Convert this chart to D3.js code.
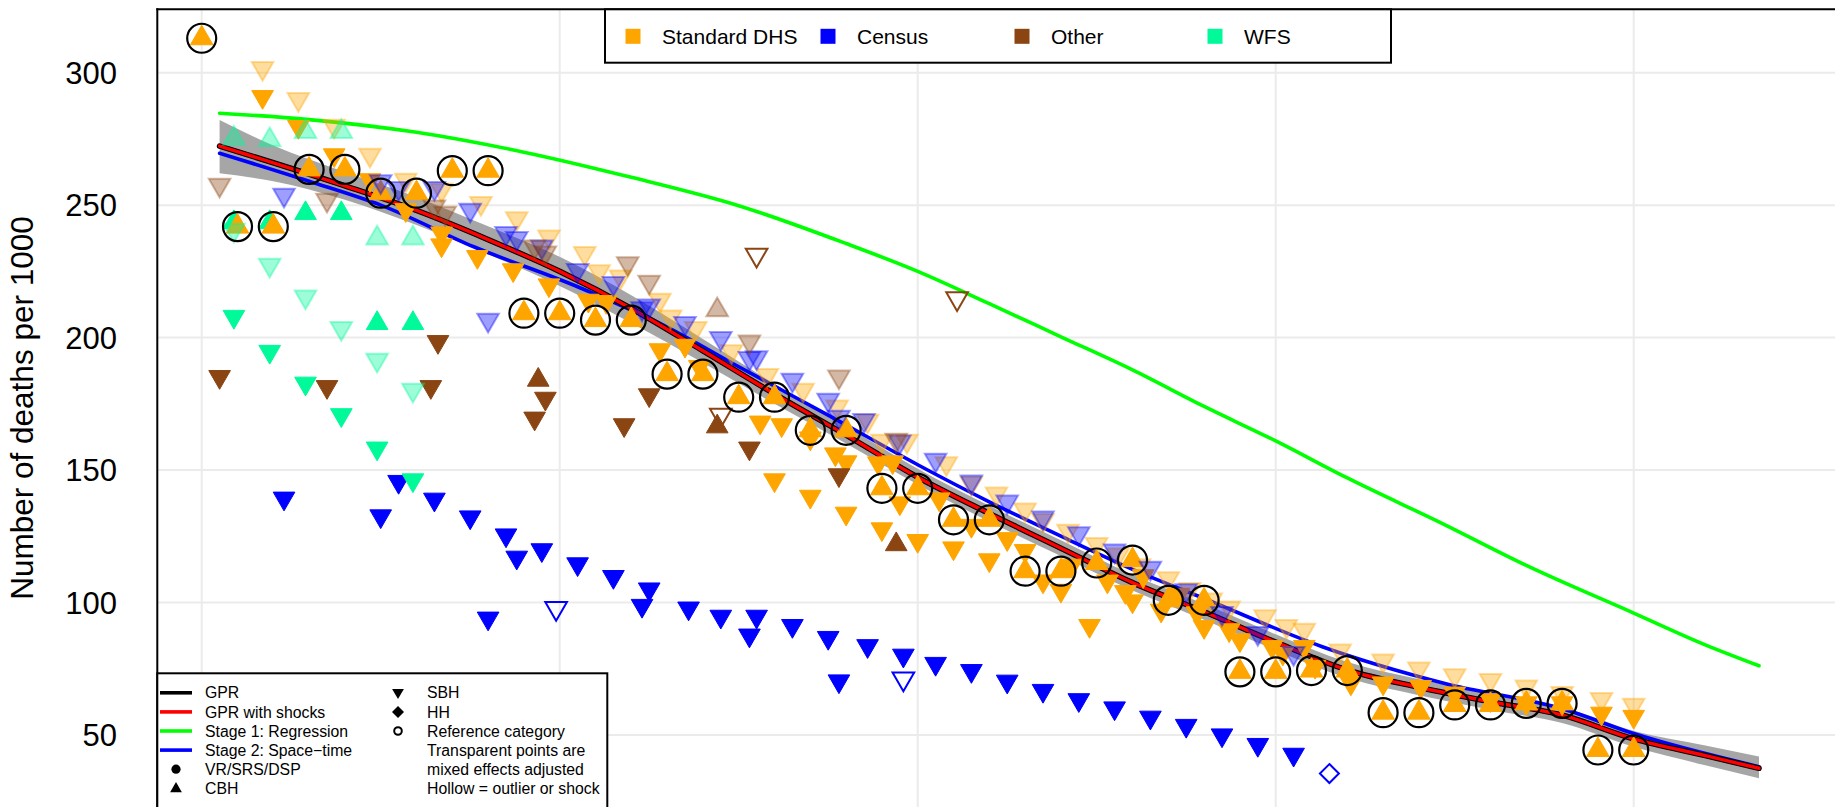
<!DOCTYPE html>
<html><head><meta charset="utf-8">
<script src="https://cdn.jsdelivr.net/npm/d3@7"></script>
<style>html,body{margin:0;padding:0;overflow:hidden;background:#fff}</style>
</head><body>
<svg id="c" width="1835" height="807"></svg>
<script>
// ---------------- data ----------------
const yTicks = [50, 100, 150, 200, 250, 300];
const xGridYears = [1970, 1980, 1990, 2000, 2010];

const sourceNames = ["Standard DHS", "Census", "Other", "WFS"];
const sourceColors = ["#FFA500", "#0000FF", "#8B4513", "#00FA9A"];

const stage1Line = [[1970.5,284.7],[1973,282.3],[1976,277.5],[1979,270],[1982,260.5],[1985,249.8],[1988,235.5],[1990,225],[1992,212.8],[1994,200.3],[1996,187.8],[1998,174],[2000,161],[2002,147],[2004.7,129.5],[2007,114],[2010,96],[2012,84],[2013.5,76.1]];
const stage2Line = [[1970.5,269.6],[1973,259],[1975,250],[1977.6,234.3],[1980.5,219.2],[1983,204],[1985,189],[1987.6,170],[1990,152],[1992,138],[1994,125],[1996,112.5],[1998,101.5],[2001.3,83.3],[2004.7,69.5],[2008.1,59.5],[2010,50.5],[2013.5,38]];
const gprLine = [[1970.5,272.3],[1972,266],[1974,257.3],[1976,248],[1978,237],[1980,225],[1982,211],[1984,195],[1986,178.7],[1988,163.2],[1990,147.3],[1992,133.6],[1994,120.5],[1996,107.5],[1998,96.5],[2000,85],[2002,74.5],[2004,68],[2006,62.5],[2008,57.5],[2010,48.5],[2012,42.2],[2013.5,37.4]];
const shocksLine = [[1970.5,272.3],[1972,266],[1974,257.3],[1976,248],[1978,237],[1980,225],[1982,211],[1984,195],[1986,178.7],[1988,163.2],[1990,147.3],[1992,133.6],[1994,120.5],[1996,107.5],[1998,96.5],[2000,85],[2002,74.5],[2004,68],[2006,62.5],[2008,57.5],[2010,48.5],[2012,42.2],[2013.5,37.4]];
const gprBand = [[1970.5,262,282.1],[1972,259,272.5],[1974,252,262.5],[1976,242.5,253],[1978,231.5,242],[1980,219.5,230.5],[1982,205.5,216],[1984,190.5,199.5],[1986,175,182.5],[1988,160,166.5],[1990,144.5,150.5],[1992,130.5,136.5],[1994,117.5,123.5],[1996,104.5,110.5],[1998,93.5,99.5],[2000,82,88],[2002,71.5,77.5],[2004,65,71],[2006,59.5,65.5],[2008,54.5,60.5],[2010,45.5,51.5],[2012,38.5,46],[2013.5,33.6,41.8]];

// Standard DHS
const dhsCbhRef = [[1970,313],[1971,241.9],[1972,241.9],[1973,263.5],[1974,263.5],[1975,254.5],[1976,254.5],[1977,263],[1978,263],[1979,209.2],[1980,209.2],[1981,206.6],[1982,206.6],[1983,186.2],[1984,186.2],[1985,177.5],[1986,177.5],[1987,165],[1988,165],[1989,143.1],[1990,143.1],[1991,131.2],[1992,131.2],[1993,111.8],[1994,111.8],[1995,114.9],[1996,116],[1997,100.8],[1998,100.8],[1999,73.8],[2000,73.8],[2001,74.3],[2002,74.3],[2003,58.4],[2004,58.4],[2005,61.3],[2006,61.3],[2007,61.9],[2008,61.9],[2009,44.3],[2010,44.3]];
const dhsSbh = [[1971.7,290.9],[1972.7,279.6],[1973.7,268.9],[1974.7,259.5],[1975.7,248.2],[1976.7,239.4],[1976.7,234.9],[1977.7,230.5],[1978.7,225.5],[1979.7,219.8],[1980.8,214],[1981.3,213.5],[1982.8,195.3],[1983.5,197],[1983.9,189],[1985.6,168],[1986.2,167],[1986,146.2],[1987,140],[1988,133.6],[1987,162],[1987.7,156],[1988,153],[1988.9,152.6],[1989.3,153],[1989.5,137.5],[1990.6,139],[1989,127.7],[1990,123.3],[1991,120.5],[1991.5,129],[1992,116],[1992.5,124],[1993,119.5],[1993.5,108],[1994,104.5],[1994.3,114],[1994.8,91.2],[1995.3,108],[1995.8,104],[1996,100.5],[1996.3,110],[1996.8,97],[1997.3,103],[1997.8,96],[1998,90.8],[1998.7,89.6],[1999,85.8],[1999.9,83.3],[2000.2,80.8],[2000.8,83.3],[2001.1,75.8],[2002.1,69.5],[2003,69.5],[2004.05,68.2],[2005,65.7],[2006,63.2],[2007,62],[2008,62],[2009.1,58.1],[2010,56.9]];
const dhsAdjSbh = [[1971.7,301.7],[1972.7,290],[1973.7,279.9],[1974.7,268.9],[1975.7,259.5],[1976.7,255.7],[1977.8,250.7],[1978.8,245],[1979.7,238.1],[1980.7,231.8],[1981.1,224.9],[1981.7,223],[1982.8,214.2],[1983.1,207.9],[1983.8,203.5],[1984.8,194.7],[1985.8,185.8],[1986.8,180.2],[1987.75,173.9],[1988.6,168.5],[1989,161],[1989.7,161],[1990.8,152.5],[1991.5,145],[1992.2,141],[1993,135],[1993.5,131],[1994.2,127],[1995,122],[1995.6,118],[1996.2,114],[1997,109],[1997.6,105],[1998.2,101],[1998.7,98],[1999.7,94.7],[2000.3,91],[2000.8,89.6],[2001.8,81.8],[2003,78],[2004,75],[2005,72.4],[2006,70.6],[2007,68.2],[2008,65.7],[2009.1,63.5],[2010,61.3]];

// Census
const censusSbh = [[1972.3,139.3],[1975,132.6],[1975.5,145.6],[1976.5,138.9],[1977.5,132.2],[1978.5,125.4],[1978.8,117],[1979.5,119.8],[1980.5,114.5],[1981.5,109.7],[1978,94],[1982.5,105],[1982.3,98.8],[1983.6,97.8],[1984.5,94.7],[1985.3,87.6],[1985.5,94.7],[1986.5,91.2],[1987.5,86.7],[1987.8,70.3],[1988.6,83.6],[1989.6,80],[1990.5,76.9],[1991.5,74.2],[1992.5,70.2],[1993.5,66.7],[1994.5,63.2],[1995.5,60.1],[1996.5,56.6],[1997.5,53.5],[1998.5,49.9],[1999.5,46.3],[2000.5,42.6]];
const censusAdjSbh = [[1972.3,253.8],[1975,258.9],[1975.5,256.4],[1976.5,256.4],[1977.5,248.2],[1978,206.6],[1978.5,239.4],[1978.8,237.5],[1979.5,234.3],[1980.5,225.4],[1981.5,220.5],[1982.3,211],[1982.5,212],[1983.5,205.4],[1984.5,199.7],[1985.3,192.2],[1985.5,192.5],[1986.5,184],[1987.5,176.4],[1987.8,170],[1988.5,168.8],[1989.5,160.7],[1990.5,153.8],[1991.5,145.6],[1992.5,138],[1993.5,132],[1994.5,126],[1995.5,119.5],[1996.5,113],[1997.5,104.5],[1998.5,95.9],[1999.5,88.4],[2000.5,80.8]];
const censusOutlierSbh = [[1979.9,97.8],[1989.6,71.2]];
const censusOutlierHh = [[2001.5,35.4]];

// Other
const otherSbh = [[1970.5,185.2],[1973.5,181.4],[1976.6,198.4],[1976.4,181.4],[1979.6,177],[1979.3,169.5],[1981.8,167],[1982.5,178.3],[1985.3,158.2],[1987.8,148.1]];
const otherCbh = [[1979.4,184],[1984.4,166.4],[1989.4,121.9]];
const otherAdjSbh = [[1970.5,257.6],[1973.5,251.9],[1976.5,249.4],[1976.8,247],[1979.3,234.3],[1979.6,232],[1981.9,228],[1982.5,221],[1985.3,198.4],[1987.8,185.2],[1989.4,161.3]];
const otherAdjCbh = [[1984.4,210.4]];
const otherOutlierSbh = [[1985.5,231.2],[1984.5,170.8],[1991.1,214.8]];

// WFS
const wfsCbh = [[1970.9,243.5],[1971.9,243.5],[1972.9,246.9],[1973.9,246.9],[1974.9,205.4],[1975.9,205.4]];
const wfsSbh = [[1970.9,207.9],[1971.9,194.7],[1972.9,182.7],[1973.9,170.8],[1974.9,158.2],[1975.9,146.2]];
const wfsAdjCbh = [[1970.9,275.2],[1971.9,274.6],[1972.9,277.7],[1973.9,277.7],[1974.9,237.5],[1975.9,237.5]];
const wfsAdjSbh = [[1970.9,240.6],[1971.9,227.4],[1972.9,215.4],[1973.9,203.5],[1974.9,191.5],[1975.9,180.2]];

const lineLegend = ["GPR", "GPR with shocks", "Stage 1: Regression", "Stage 2: Space\u2212time"];
const lineLegendColors = ["#000000", "#FF0000", "#00FF00", "#0000FF"];
const symbolLegend = ["VR/SRS/DSP", "CBH"];
const noteLegend = ["SBH", "HH", "Reference category", "Transparent points are", "mixed effects adjusted", "Hollow = outlier or shock"];

// ---------------- drawing ----------------
const W = 1835, H = 807;
const L = 157.3, T = 9.3;
const FONT = "'Liberation Sans', Arial, Helvetica, sans-serif";
const svg = d3.select("#c").style("font-family", FONT);

const x = d3.scaleLinear().domain([1970, 2010]).range([201.7, 1633.7]);
const y = d3.scaleLinear().domain([300, 50]).range([72.7, 734.9]);

svg.append("defs").append("clipPath").attr("id", "plotclip")
  .append("rect").attr("x", L).attr("y", T).attr("width", W - L).attr("height", H - T);

// grid
const grid = svg.append("g").attr("stroke", "#ebebeb").attr("stroke-width", 2);
grid.selectAll("line.h").data(yTicks).join("line").attr("class", "h")
  .attr("x1", L).attr("x2", W).attr("y1", d => y(d)).attr("y2", d => y(d));
grid.selectAll("line.v").data(xGridYears).join("line").attr("class", "v")
  .attr("x1", d => x(d)).attr("x2", d => x(d)).attr("y1", T).attr("y2", H);

const plot = svg.append("g").attr("clip-path", "url(#plotclip)");

// band
plot.append("path").datum(gprBand)
  .attr("d", d3.area().x(d => x(d[0])).y0(d => y(d[1])).y1(d => y(d[2])).curve(d3.curveMonotoneX))
  .attr("fill", "#a6a6a6");

const lineGen = d3.line().x(d => x(d[0])).y(d => y(d[1])).curve(d3.curveMonotoneX);
function drawLine(data, color, w) {
  plot.append("path").datum(data).attr("d", lineGen).attr("fill", "none")
    .attr("stroke", color).attr("stroke-width", w).attr("stroke-linecap", "round").attr("stroke-linejoin", "round");
}
drawLine(stage1Line, "#00FF00", 3.6);
drawLine(stage2Line, "#0000FF", 3.6);
drawLine(gprLine, "#000000", 5.6);
drawLine(shocksLine, "#FF0000", 3.4);

// symbols
function tri(r, up) {
  const s = up ? 1 : -1, h = r * Math.sqrt(3) / 2;
  return `M0,${-s * r}L${h},${s * r / 2}L${-h},${s * r / 2}Z`;
}
function diamond(r) { return `M0,${-r}L${r},0L0,${r}L${-r},0Z`; }

function pts(data, pathStr, color, mode) {
  const g = plot.append("g");
  const sel = g.selectAll("path").data(data).join("path")
    .attr("d", pathStr)
    .attr("transform", d => `translate(${x(d[0])},${y(d[1])})`);
  if (mode === "solid") sel.attr("fill", color).attr("stroke", color).attr("stroke-width", 1);
  else if (mode === "alpha") sel.attr("fill", color).attr("fill-opacity", 0.38)
      .attr("stroke", color).attr("stroke-opacity", 0.38).attr("stroke-width", 2);
  else sel.attr("fill", "none").attr("stroke", color).attr("stroke-width", 2);
}
const R = 12.5;
const [cDhs, cCen, cOth, cWfs] = sourceColors;

// solid points
pts(dhsSbh, tri(R, false), cDhs, "solid");
pts(censusSbh, tri(R, false), cCen, "solid");
pts(otherSbh, tri(R, false), cOth, "solid");
pts(otherCbh, tri(R, true), cOth, "solid");
pts(wfsCbh, tri(R, true), cWfs, "solid");
pts(wfsSbh, tri(R, false), cWfs, "solid");
// hollow
pts(censusOutlierSbh, tri(R, false), cCen, "hollow");
pts(censusOutlierHh, diamond(9.5), cCen, "hollow");
pts(otherOutlierSbh, tri(R, false), cOth, "hollow");
// reference CBH
pts(dhsCbhRef, tri(R + 0.5, true), cDhs, "solid");
// transparent (mixed effects adjusted)
pts(dhsAdjSbh, tri(R, false), cDhs, "alpha");
pts(censusAdjSbh, tri(R, false), cCen, "alpha");
pts(otherAdjSbh, tri(R, false), cOth, "alpha");
pts(otherAdjCbh, tri(R, true), cOth, "alpha");
pts(wfsAdjCbh, tri(R, true), cWfs, "alpha");
pts(wfsAdjSbh, tri(R, false), cWfs, "alpha");
// reference rings
plot.append("g").selectAll("circle").data(dhsCbhRef).join("circle")
  .attr("cx", d => x(d[0])).attr("cy", d => y(d[1])).attr("r", 14.5)
  .attr("fill", "none").attr("stroke", "#000").attr("stroke-width", 2.2);

// axes frame
svg.append("line").attr("x1", L).attr("x2", L).attr("y1", T - 1).attr("y2", H).attr("stroke", "#000").attr("stroke-width", 2);
svg.append("line").attr("x1", L - 1).attr("x2", W).attr("y1", T).attr("y2", T).attr("stroke", "#000").attr("stroke-width", 2);

// y tick labels
svg.append("g").selectAll("text").data(yTicks).join("text")
  .attr("x", 117).attr("y", d => y(d) + 11.1).attr("text-anchor", "end")
  .attr("font-size", 31).attr("fill", "#000").text(d => d);
svg.append("text").attr("transform", "translate(32.5,408) rotate(-90)")
  .attr("text-anchor", "middle").attr("font-size", 31.5).attr("fill", "#000")
  .text("Number of deaths per 1000");

// top legend
const tl = svg.append("g");
tl.append("rect").attr("x", 605).attr("y", T).attr("width", 786).attr("height", 53.4)
  .attr("fill", "#fff").attr("stroke", "#000").attr("stroke-width", 2);
const tlX = [633, 828, 1022, 1215];
sourceNames.forEach((n, i) => {
  tl.append("rect").attr("x", tlX[i] - 7.5).attr("y", 28.8).attr("width", 15).attr("height", 15).attr("fill", sourceColors[i]);
  tl.append("text").attr("x", tlX[i] + 29).attr("y", 43.8).attr("font-size", 21).attr("fill", "#000").text(n);
});

// bottom legend
const bl = svg.append("g");
bl.append("rect").attr("x", L).attr("y", 673.3).attr("width", 450).attr("height", 200)
  .attr("fill", "#fff").attr("stroke", "#000").attr("stroke-width", 2);
const row = i => 692.8 + i * 19.1;
const fs = 15.8;
lineLegend.forEach((n, i) => {
  bl.append("line").attr("x1", 160).attr("x2", 192).attr("y1", row(i)).attr("y2", row(i))
    .attr("stroke", lineLegendColors[i]).attr("stroke-width", 3.6);
  bl.append("text").attr("x", 205).attr("y", row(i) + 5.6).attr("font-size", fs).text(n);
});
bl.append("circle").attr("cx", 176).attr("cy", row(4)).attr("r", 4.6).attr("fill", "#000");
bl.append("path").attr("d", tri(6.8, true)).attr("transform", `translate(176,${row(5) + 0.5})`).attr("fill", "#000");
symbolLegend.forEach((n, i) => {
  bl.append("text").attr("x", 205).attr("y", row(4 + i) + 5.6).attr("font-size", fs).text(n);
});
bl.append("path").attr("d", tri(6.8, false)).attr("transform", `translate(398,${row(0) - 0.5})`).attr("fill", "#000");
bl.append("path").attr("d", diamond(6)).attr("transform", `translate(398,${row(1)})`).attr("fill", "#000");
bl.append("circle").attr("cx", 398).attr("cy", row(2)).attr("r", 3.8).attr("fill", "none").attr("stroke", "#000").attr("stroke-width", 2);
noteLegend.forEach((n, i) => {
  bl.append("text").attr("x", 427).attr("y", row(i) + 5.6).attr("font-size", fs).text(n);
});
</script>
</body></html>
